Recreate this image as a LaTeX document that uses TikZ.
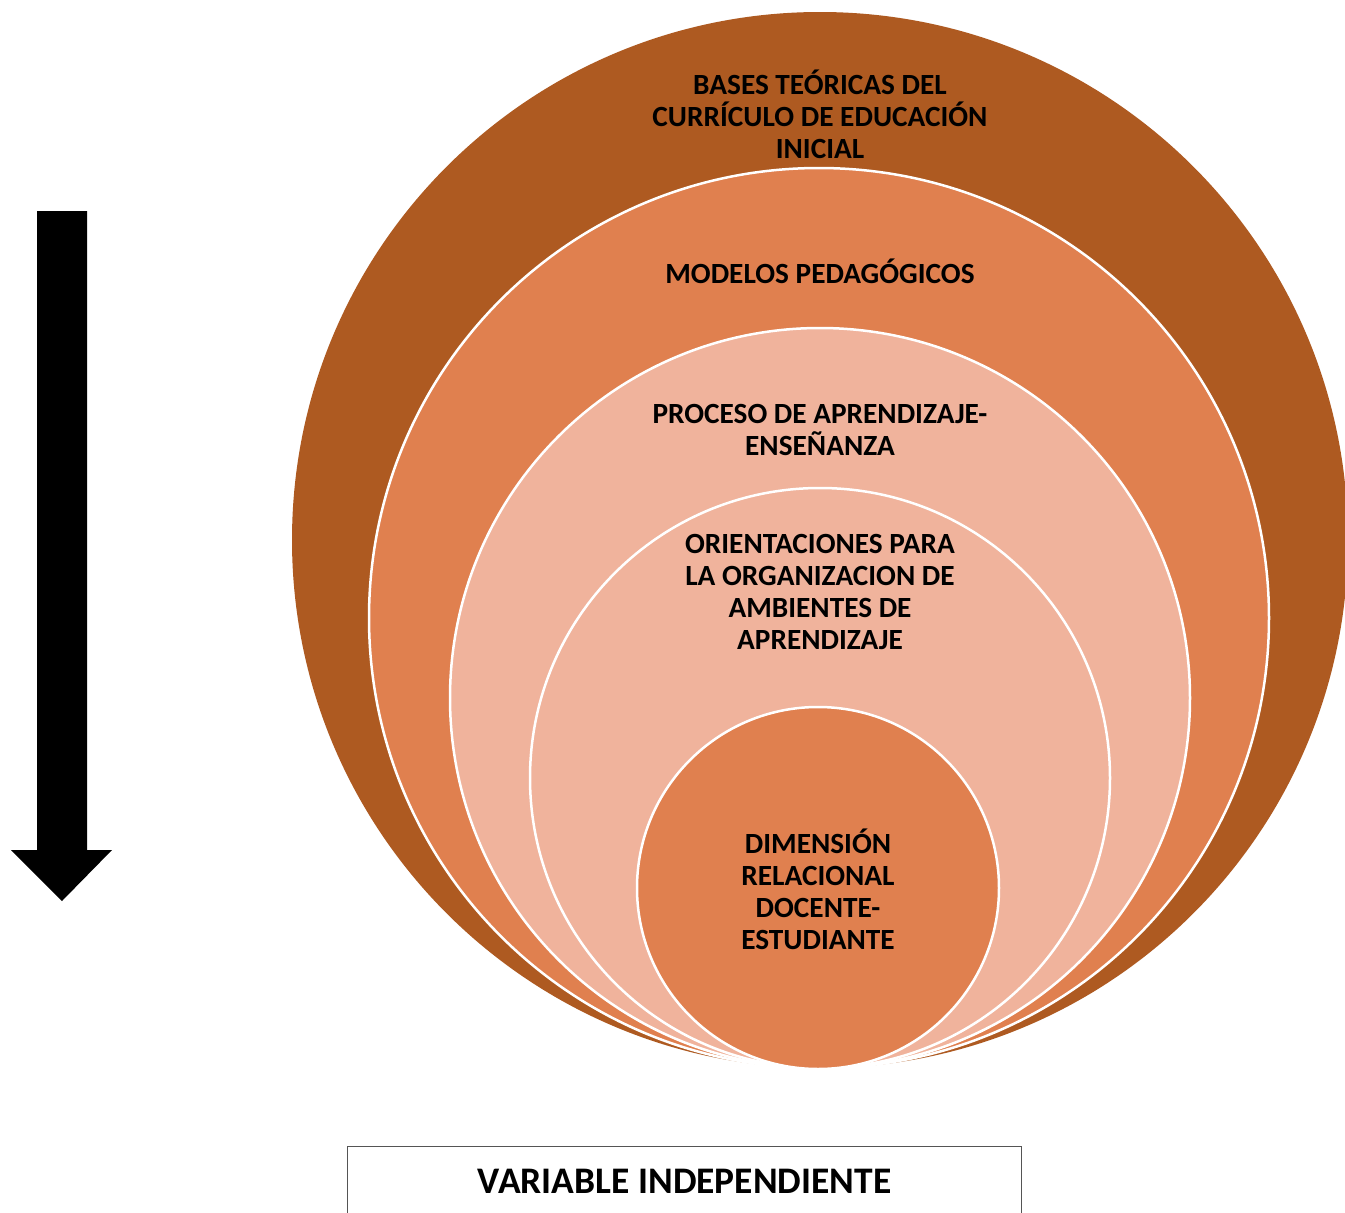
\documentclass[tikz,border=0pt]{standalone}
\usepackage{fontspec}
\setmainfont{Carlito}
\definecolor{brownout}{HTML}{AE5A21}
\definecolor{orangemid}{HTML}{E0804F}
\definecolor{peach}{HTML}{F0B39C}
\definecolor{boxline}{HTML}{555555}
\begin{document}
\begin{tikzpicture}[x=1pt,y=-1pt,
  ring/.style={circle, draw=white, line width=2.5pt, inner sep=0pt, minimum size=#1},
  lab/.style={font=\fontsize{29.3}{32}\selectfont\bfseries, align=center, text=black, inner sep=0pt},
  varbox/.style={draw=boxline, line width=1.3pt, inner sep=0pt, font=\fontsize{37.5}{42}\selectfont\bfseries}]
\useasboundingbox (0,0) rectangle (1345,1213);
\fill[white] (0,0) rectangle (1345,1213);
% nested circles
\node[ring=1056pt, fill=brownout, draw=none] (c1) at (820,540) {};
\node[ring=900pt, fill=orangemid] (c2) at (819,618) {};
\node[ring=740pt, fill=peach] (c3) at (820,698) {};
\node[ring=580pt, fill=peach] (c4) at (820,778) {};
\node[ring=362pt, fill=orangemid] (c5) at (818,888) {};
% labels
\node[lab] (t1) at (820,114) {BASES TEÓRICAS DEL\\CURRÍCULO DE EDUCACIÓN\\INICIAL};
\node[lab] (t2) at (820,271) {MODELOS PEDAGÓGICOS};
\node[lab] (t3) at (820,430) {PROCESO DE APRENDIZAJE-\\ENSEÑANZA};
\node[lab] (t4) at (820,592) {ORIENTACIONES PARA\\LA ORGANIZACION DE\\AMBIENTES DE\\APRENDIZAJE};
\node[lab] (t5) at (818,889) {DIMENSIÓN\\RELACIONAL\\DOCENTE-\\ESTUDIANTE};
% arrow
\fill[black] (37,211) -- (87,211) -- (87,850) -- (112,850) -- (62,901) -- (11,850) -- (37,850) -- cycle;
% box
\node[varbox, minimum width=674pt, minimum height=70pt, anchor=north west] (vi) at (347,1146) {VARIABLE INDEPENDIENTE};
\end{tikzpicture}
\end{document}
